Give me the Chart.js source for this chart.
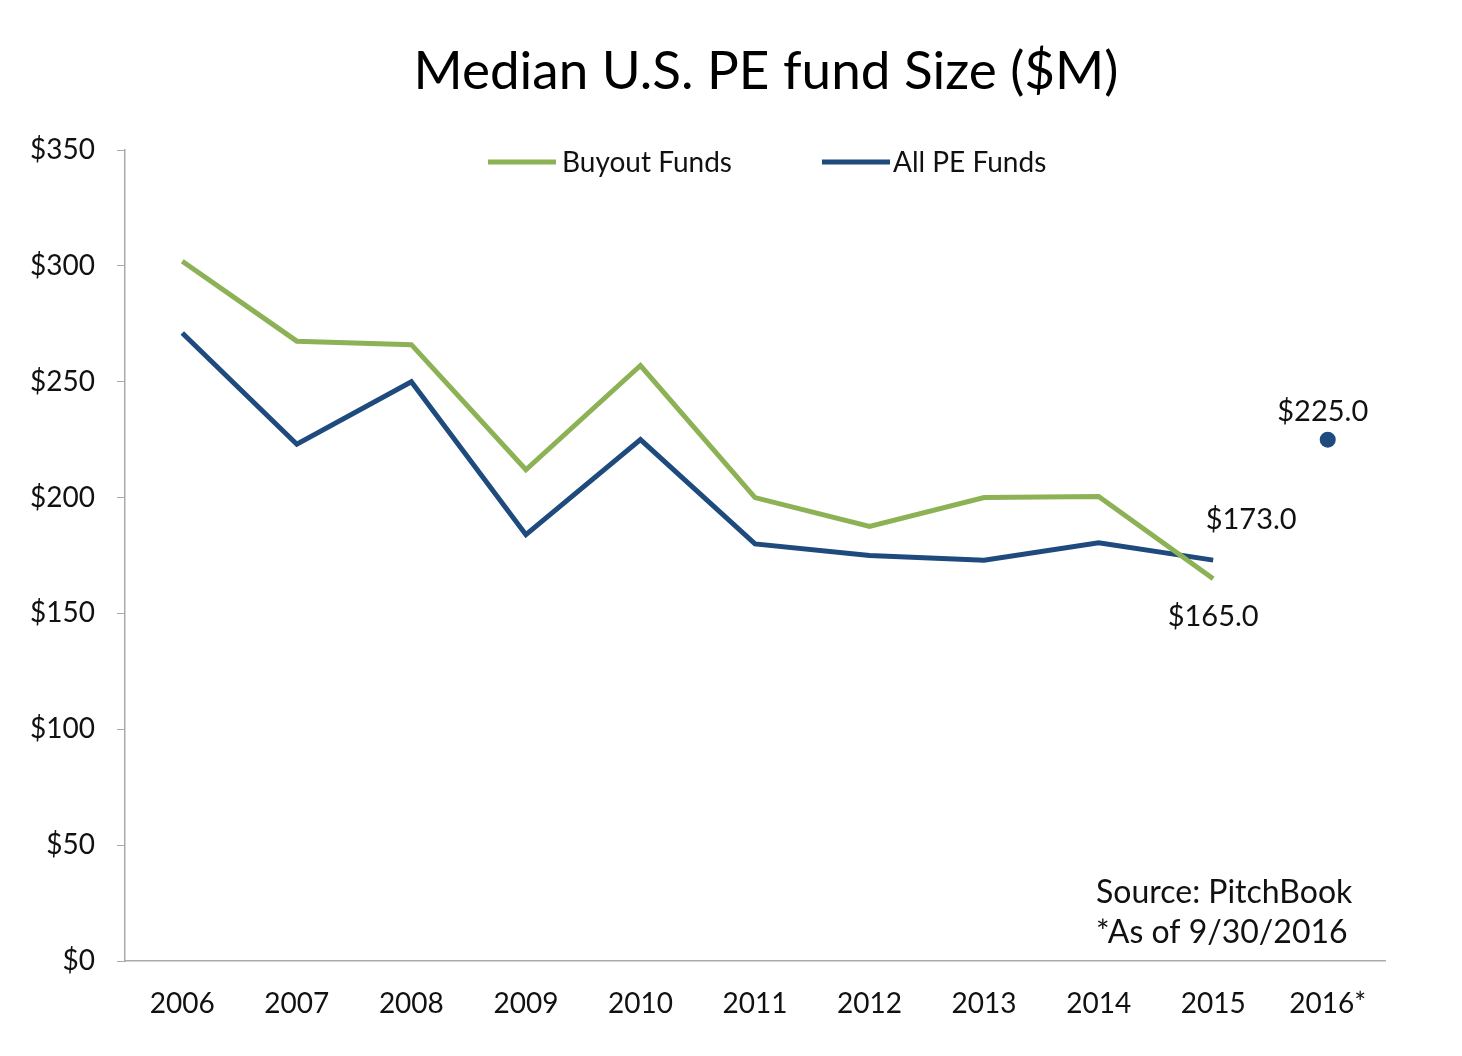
<!DOCTYPE html>
<html>
<head>
<meta charset="utf-8">
<script src="https://cdn.jsdelivr.net/npm/chart.js@4"></script>
<style>
  html, body { margin: 0; padding: 0; background: #fff; }
  #wrap { width: 1462px; height: 1056px; }
</style>
</head>
<body>
<div id="wrap"><canvas id="myChart" width="1462" height="1056"></canvas></div>
<script>
const years = ['2006', '2007', '2008', '2009', '2010', '2011', '2012', '2013', '2014', '2015', '2016*'];
const buyoutFunds = [302, 267.5, 266, 212, 257, 200, 187.5, 200, 200.5, 165, null];
const allPeFunds = [271, 223, 250, 184, 225, 180, 175, 173, 180.5, 173, null];
const allPe2016 = [null, null, null, null, null, null, null, null, null, null, 225];
const yTicks = [0, 50, 100, 150, 200, 250, 300, 350];

const GREEN = '#8DB255';
const BLUE = '#1F4A7E';
const FONT = 'Lato, "Open Sans", sans-serif';

// title, labels next to points, legend inside plot, source note
const extras = {
  id: 'extras',
  afterDraw(chart) {
    const ctx = chart.ctx;
    const x = chart.scales.x, y = chart.scales.y;
    ctx.save();
    ctx.fillStyle = '#000';
    ctx.textAlign = 'center';
    ctx.textBaseline = 'middle';
    ctx.font = '53px ' + FONT;
    ctx.fillText('Median U.S. PE fund Size ($M)', 766, 72);

    ctx.fillStyle = '#111';
    ctx.font = '29px ' + FONT;
    ctx.fillText('$225.0', x.getPixelForValue(10) - 5, y.getPixelForValue(225) - 28);
    ctx.fillText('$173.0', x.getPixelForValue(9) + 38, y.getPixelForValue(173) - 40);
    ctx.fillText('$165.0', x.getPixelForValue(9), y.getPixelForValue(165) + 38);

    // legend
    ctx.font = '28px ' + FONT;
    ctx.textAlign = 'left';
    ctx.lineWidth = 5;
    ctx.strokeStyle = GREEN;
    ctx.beginPath(); ctx.moveTo(488, 162); ctx.lineTo(556, 162); ctx.stroke();
    ctx.fillText('Buyout Funds', 562, 163);
    ctx.strokeStyle = BLUE;
    ctx.beginPath(); ctx.moveTo(822, 162); ctx.lineTo(890, 162); ctx.stroke();
    ctx.fillText('All PE Funds', 893, 163);

    // source
    ctx.font = '32px ' + FONT;
    ctx.fillText('Source: PitchBook', 1096, 893);
    ctx.fillText('*As of 9/30/2016', 1096, 933);
    ctx.restore();
  }
};

new Chart(document.getElementById('myChart').getContext('2d'), {
  type: 'line',
  data: {
    labels: years,
    datasets: [
      { label: 'Buyout Funds', data: buyoutFunds, borderColor: GREEN, backgroundColor: GREEN,
        borderWidth: 5, pointRadius: 0, tension: 0, fill: false },
      { label: 'All PE Funds', data: allPeFunds, borderColor: BLUE, backgroundColor: BLUE,
        borderWidth: 5, pointRadius: 0, tension: 0, fill: false },
      { label: 'All PE Funds 2016', data: allPe2016, borderColor: BLUE, backgroundColor: BLUE,
        showLine: false, pointRadius: 8, pointBorderWidth: 0 }
    ]
  },
  options: {
    responsive: false,
    animation: false,
    layout: { padding: { left: 0, right: 77, top: 150, bottom: 0 } },
    scales: {
      x: {
        offset: true,
        grid: { display: false, drawTicks: false },
        border: { color: '#aaa', width: 1.5 },
        ticks: { color: '#111', font: { family: FONT, size: 28 }, padding: 26, maxRotation: 0 },
        afterFit(scale) { scale.height = 95; }
      },
      y: {
        min: 0, max: 350,
        afterBuildTicks(scale) { scale.ticks = yTicks.map(v => ({ value: v })); },
        grid: { drawOnChartArea: false, tickLength: 8, color: '#aaa' },
        border: { color: '#aaa', width: 1.5 },
        ticks: { color: '#111', font: { family: FONT, size: 28 }, padding: 22,
                 callback: v => '$' + v },
        afterFit(scale) { scale.width = 125; }
      }
    },
    plugins: {
      legend: { display: false },
      tooltip: { enabled: false },
      title: { display: false }
    }
  },
  plugins: [extras]
});
</script>
</body>
</html>
